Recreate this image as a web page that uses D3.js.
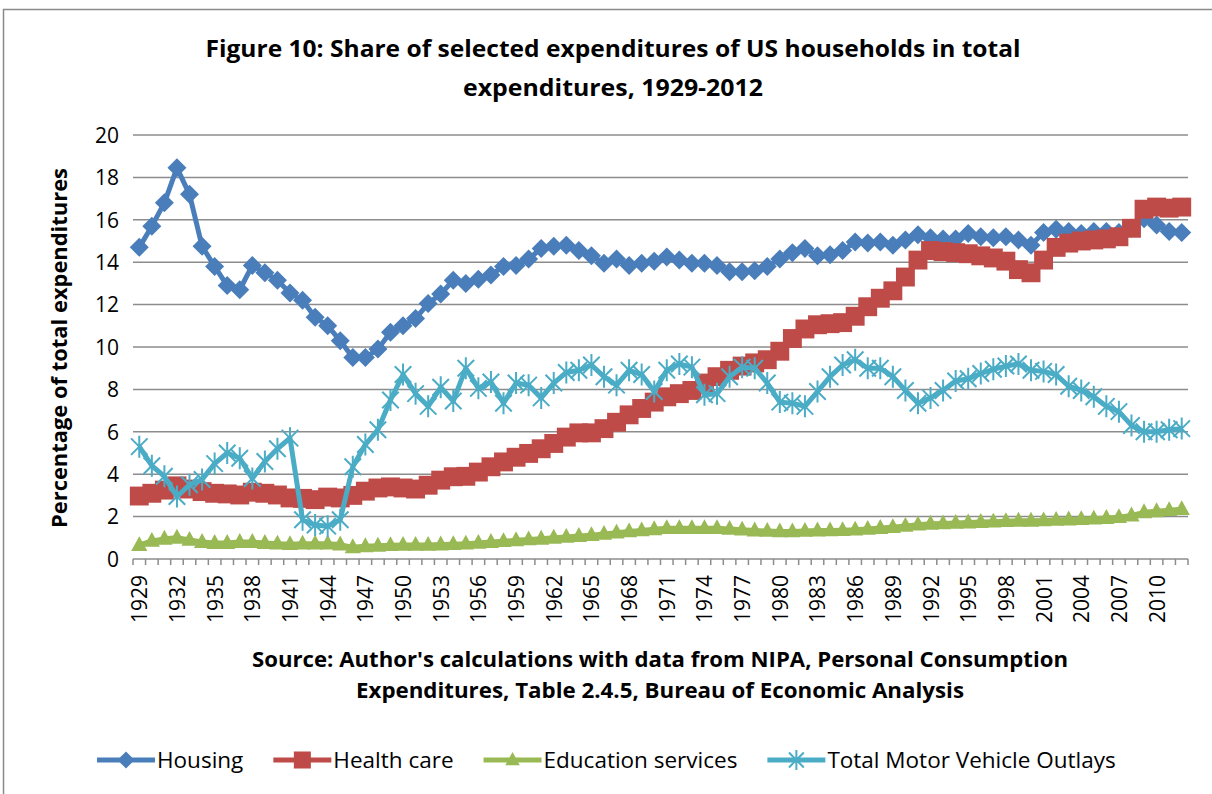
<!DOCTYPE html>
<html>
<head>
<meta charset="utf-8">
<script src="https://cdnjs.cloudflare.com/ajax/libs/d3/7.8.5/d3.min.js"></script>
<style>
  body { margin: 0; background: #fff; }
  text { font-family: "Open Sans", "Liberation Sans", sans-serif; fill: #000; }
</style>
</head>
<body>
<script>
var years = [
  "1929","1930","1931","1932","1933","1934","1935","1936","1937","1938",
  "1939","1940","1941","1942","1943","1944","1945","1946","1947","1948",
  "1949","1950","1951","1952","1953","1954","1955","1956","1957","1958",
  "1959","1960","1961","1962","1963","1964","1965","1966","1967","1968",
  "1969","1970","1971","1972","1973","1974","1975","1976","1977","1978",
  "1979","1980","1981","1982","1983","1984","1985","1986","1987","1988",
  "1989","1990","1991","1992","1993","1994","1995","1996","1997","1998",
  "1999","2000","2001","2002","2003","2004","2005","2006","2007","2008",
  "2009","2010","2011","2012"];

var yearLabels = ["1929","1932","1935","1938","1941","1944","1947","1950","1953","1956",
  "1959","1962","1965","1968","1971","1974","1977","1980","1983","1986","1989","1992",
  "1995","1998","2001","2004","2007","2010"];

var yTicks = [0, 2, 4, 6, 8, 10, 12, 14, 16, 18, 20];

var housing = [
  14.7, 15.7, 16.8, 18.45, 17.2, 14.75, 13.8, 12.9, 12.7, 13.85,
  13.5, 13.15, 12.55, 12.2, 11.4, 11.0, 10.3, 9.5, 9.5, 9.9,
  10.7, 11.0, 11.35, 12.05, 12.5, 13.15, 13.0, 13.2, 13.4, 13.8,
  13.85, 14.15, 14.65, 14.75, 14.8, 14.55, 14.3, 13.95, 14.15, 13.85,
  13.95, 14.05, 14.25, 14.1, 13.95, 13.95, 13.85, 13.55, 13.55, 13.6,
  13.8, 14.15, 14.45, 14.65, 14.3, 14.35, 14.55, 14.95, 14.9, 14.95,
  14.8, 15.05, 15.3, 15.15, 15.1, 15.1, 15.35, 15.2, 15.15, 15.2,
  15.05, 14.8, 15.4, 15.55, 15.45, 15.35, 15.45, 15.45, 15.4, 15.6,
  16.05, 15.75, 15.45, 15.4];

var healthCare = [
  2.97, 3.1, 3.25, 3.45, 3.3, 3.18, 3.1, 3.07, 3.02, 3.15,
  3.1, 3.02, 2.88, 2.86, 2.8, 2.92, 2.88, 3.0, 3.2, 3.35,
  3.4, 3.35, 3.3, 3.48, 3.72, 3.88, 3.9, 4.1, 4.35, 4.58,
  4.8, 4.98, 5.2, 5.45, 5.75, 5.95, 5.95, 6.15, 6.45, 6.8,
  7.1, 7.4, 7.65, 7.8, 7.95, 8.3, 8.6, 8.9, 9.1, 9.25,
  9.4, 9.8, 10.4, 10.85, 11.05, 11.1, 11.15, 11.45, 11.9, 12.3,
  12.65, 13.3, 14.1, 14.55, 14.5, 14.45, 14.4, 14.3, 14.2, 14.05,
  13.65, 13.5, 14.1, 14.7, 14.9, 15.0, 15.05, 15.1, 15.2, 15.6,
  16.5, 16.6, 16.55, 16.6];

var education = [
  0.65, 0.85, 0.95, 1.0, 0.9, 0.8, 0.75, 0.75, 0.8, 0.8,
  0.75, 0.72, 0.7, 0.72, 0.72, 0.72, 0.68, 0.55, 0.6, 0.62,
  0.65, 0.66, 0.66, 0.66, 0.68, 0.7, 0.72, 0.76, 0.8, 0.84,
  0.88, 0.92, 0.95, 1.0, 1.04, 1.08, 1.12, 1.18, 1.24, 1.3,
  1.35, 1.4, 1.45, 1.45, 1.45, 1.45, 1.45, 1.42, 1.38, 1.34,
  1.32, 1.3, 1.3, 1.32, 1.34, 1.35, 1.36, 1.38, 1.42, 1.46,
  1.5, 1.56, 1.62, 1.66, 1.68, 1.7, 1.72, 1.74, 1.76, 1.78,
  1.8, 1.8, 1.82, 1.84, 1.86, 1.88, 1.9, 1.93, 1.97, 2.05,
  2.2, 2.25, 2.3, 2.35];

var motorVehicles = [
  5.3, 4.4, 3.9, 2.95, 3.5, 3.75, 4.5, 5.0, 4.75, 3.8,
  4.6, 5.2, 5.7, 1.85, 1.6, 1.55, 1.85, 4.35, 5.4, 6.1,
  7.5, 8.7, 7.8, 7.2, 8.1, 7.45, 9.0, 8.05, 8.35, 7.35,
  8.3, 8.2, 7.6, 8.3, 8.8, 8.9, 9.15, 8.6, 8.2, 8.9,
  8.7, 7.9, 8.9, 9.2, 9.05, 7.75, 7.8, 8.6, 9.05, 9.0,
  8.3, 7.4, 7.35, 7.2, 7.9, 8.6, 9.15, 9.4, 9.0, 9.0,
  8.6, 7.95, 7.35, 7.6, 7.95, 8.4, 8.5, 8.75, 8.95, 9.1,
  9.2, 8.9, 8.85, 8.7, 8.15, 7.95, 7.65, 7.2, 6.95, 6.3,
  6.0, 6.0, 6.1, 6.15];

var seriesNames = ["Housing", "Health care", "Education services", "Total Motor Vehicle Outlays"];
var seriesValues = [housing, healthCare, education, motorVehicles];
var seriesColors = ["#4a7ebb", "#be4b48", "#98b954", "#4bacc6"];
var seriesMarkers = ["diamond", "square", "triangle", "star"];

var width = 1212,
    height = 794;

var svg = d3.select("body").append("svg")
    .attr("width", width)
    .attr("height", height);

// chart frame
svg.append("path")
    .attr("d", "M3.5," + height + " V9.5 H" + width)
    .attr("fill", "none")
    .attr("stroke", "#8a8a8a")
    .attr("stroke-width", 1.5);

var x = d3.scaleBand()
    .domain(years)
    .range([133, 1188]);

var y = d3.scaleLinear()
    .domain([0, 20])
    .range([559, 135]);

function cx(d) { return x(d) + x.bandwidth() / 2; }

// gridlines
svg.append("g").selectAll("line")
    .data(yTicks.slice(1))
  .enter().append("line")
    .attr("x1", x.range()[0])
    .attr("x2", x.range()[1])
    .attr("y1", function(d) { return y(d); })
    .attr("y2", function(d) { return y(d); })
    .attr("stroke", "#8c8c8c")
    .attr("stroke-width", 1.5);

// x axis line and ticks at category edges
svg.append("line")
    .attr("x1", x.range()[0])
    .attr("x2", x.range()[1])
    .attr("y1", y(0))
    .attr("y2", y(0))
    .attr("stroke", "#8c8c8c")
    .attr("stroke-width", 1.5);

svg.append("g").selectAll("line")
    .data(years.concat(["end"]))
  .enter().append("line")
    .attr("x1", function(d) { return d == "end" ? x.range()[1] : x(d); })
    .attr("x2", function(d) { return d == "end" ? x.range()[1] : x(d); })
    .attr("y1", y(0))
    .attr("y2", y(0) + 6)
    .attr("stroke", "#8c8c8c")
    .attr("stroke-width", 1.5);

// x tick labels
svg.append("g").selectAll("text")
    .data(yearLabels)
  .enter().append("text")
    .attr("transform", function(d) { return "translate(" + (cx(d) + 8) + "," + (y(0) + 16) + ") rotate(-90)"; })
    .attr("text-anchor", "end")
    .style("font-size", "21px")
    .text(function(d) { return d; });

// y axis labels
var yAxis = svg.append("g")
    .attr("transform", "translate(" + x.range()[0] + ",0)")
    .call(d3.axisLeft(y).tickValues(yTicks).tickSize(0).tickPadding(14));
yAxis.select(".domain").remove();
yAxis.selectAll("text")
    .style("font-family", "'Open Sans', sans-serif")
    .style("font-size", "21px")
    .attr("dy", "0.35em");

svg.append("text")
    .attr("transform", "translate(67,348) rotate(-90)")
    .attr("text-anchor", "middle")
    .attr("textLength", 360)
    .attr("lengthAdjust", "spacingAndGlyphs")
    .style("font-size", "21px")
    .style("font-weight", "bold")
    .text("Percentage of total expenditures");

// title
var titleLines = ["Figure 10: Share of selected expenditures of US households in total",
                  "expenditures, 1929-2012"];
var titleWidths = [815, 300];
svg.append("g").selectAll("text")
    .data(titleLines)
  .enter().append("text")
    .attr("x", 613)
    .attr("y", function(d, i) { return 57 + i * 39; })
    .attr("text-anchor", "middle")
    .attr("textLength", function(d, i) { return titleWidths[i]; })
    .attr("lengthAdjust", "spacingAndGlyphs")
    .style("font-size", "23px")
    .style("font-weight", "bold")
    .text(function(d) { return d; });

// source note
var sourceLines = ["Source: Author's calculations with data from NIPA, Personal Consumption",
                   "Expenditures, Table 2.4.5, Bureau of Economic Analysis"];
var sourceWidths = [816, 608];
svg.append("g").selectAll("text")
    .data(sourceLines)
  .enter().append("text")
    .attr("x", 660)
    .attr("y", function(d, i) { return 667 + i * 31; })
    .attr("text-anchor", "middle")
    .attr("textLength", function(d, i) { return sourceWidths[i]; })
    .attr("lengthAdjust", "spacingAndGlyphs")
    .style("font-size", "21px")
    .style("font-weight", "bold")
    .text(function(d) { return d; });

// marker shapes
function drawMarker(sel, type, color, s) {
  if (type == "diamond") {
    sel.append("path")
      .attr("d", "M0," + (-s) + "L" + s + ",0L0," + s + "L" + (-s) + ",0Z")
      .attr("fill", color);
  } else if (type == "square") {
    sel.append("rect")
      .attr("x", -s * 0.9).attr("y", -s * 0.9)
      .attr("width", s * 1.8).attr("height", s * 1.8)
      .attr("fill", color);
  } else if (type == "triangle") {
    sel.append("path")
      .attr("d", "M0," + (-s) + "L" + (s * 0.9) + "," + (s * 0.65) + "L" + (-s * 0.9) + "," + (s * 0.65) + "Z")
      .attr("fill", color);
  } else {
    var a = s * 0.75;
    sel.append("path")
      .attr("d", "M0," + (-s) + "V" + s + "M" + (-a) + "," + (-a) + "L" + a + "," + a + "M" + (-a) + "," + a + "L" + a + "," + (-a))
      .attr("stroke", color)
      .attr("stroke-width", 2)
      .attr("fill", "none");
  }
}

var markerSizes = [9.5, 10.5, 9, 11];

var line = d3.line()
    .x(function(d) { return cx(d.year); })
    .y(function(d) { return y(d.value); });

seriesValues.forEach(function(values, k) {
  var data = values.map(function(v, i) { return {year: years[i], value: v}; });
  var g = svg.append("g");

  g.append("path")
      .datum(data)
      .attr("d", line)
      .attr("fill", "none")
      .attr("stroke", seriesColors[k])
      .attr("stroke-width", 5)
      .attr("stroke-linejoin", "round");

  g.selectAll("g.marker")
      .data(data)
    .enter().append("g")
      .attr("class", "marker")
      .attr("transform", function(d) { return "translate(" + cx(d.year) + "," + y(d.value) + ")"; })
      .each(function() { drawMarker(d3.select(this), seriesMarkers[k], seriesColors[k], markerSizes[k]); });
});

// legend
var legend = svg.append("g");
var legendX = 97;
seriesNames.forEach(function(name, k) {
  var item = legend.append("g").attr("transform", "translate(" + legendX + ",760)");
  item.append("line")
      .attr("x1", 0).attr("x2", 58)
      .attr("stroke", seriesColors[k])
      .attr("stroke-width", 5);
  drawMarker(item.append("g").attr("transform", "translate(29,0)"), seriesMarkers[k], seriesColors[k], markerSizes[k] * 0.9);
  var t = item.append("text")
      .attr("x", 60)
      .attr("y", 8)
      .style("font-size", "22.5px")
      .text(name);
  legendX += 60 + t.node().getComputedTextLength() + 30;
});
</script>
</body>
</html>
